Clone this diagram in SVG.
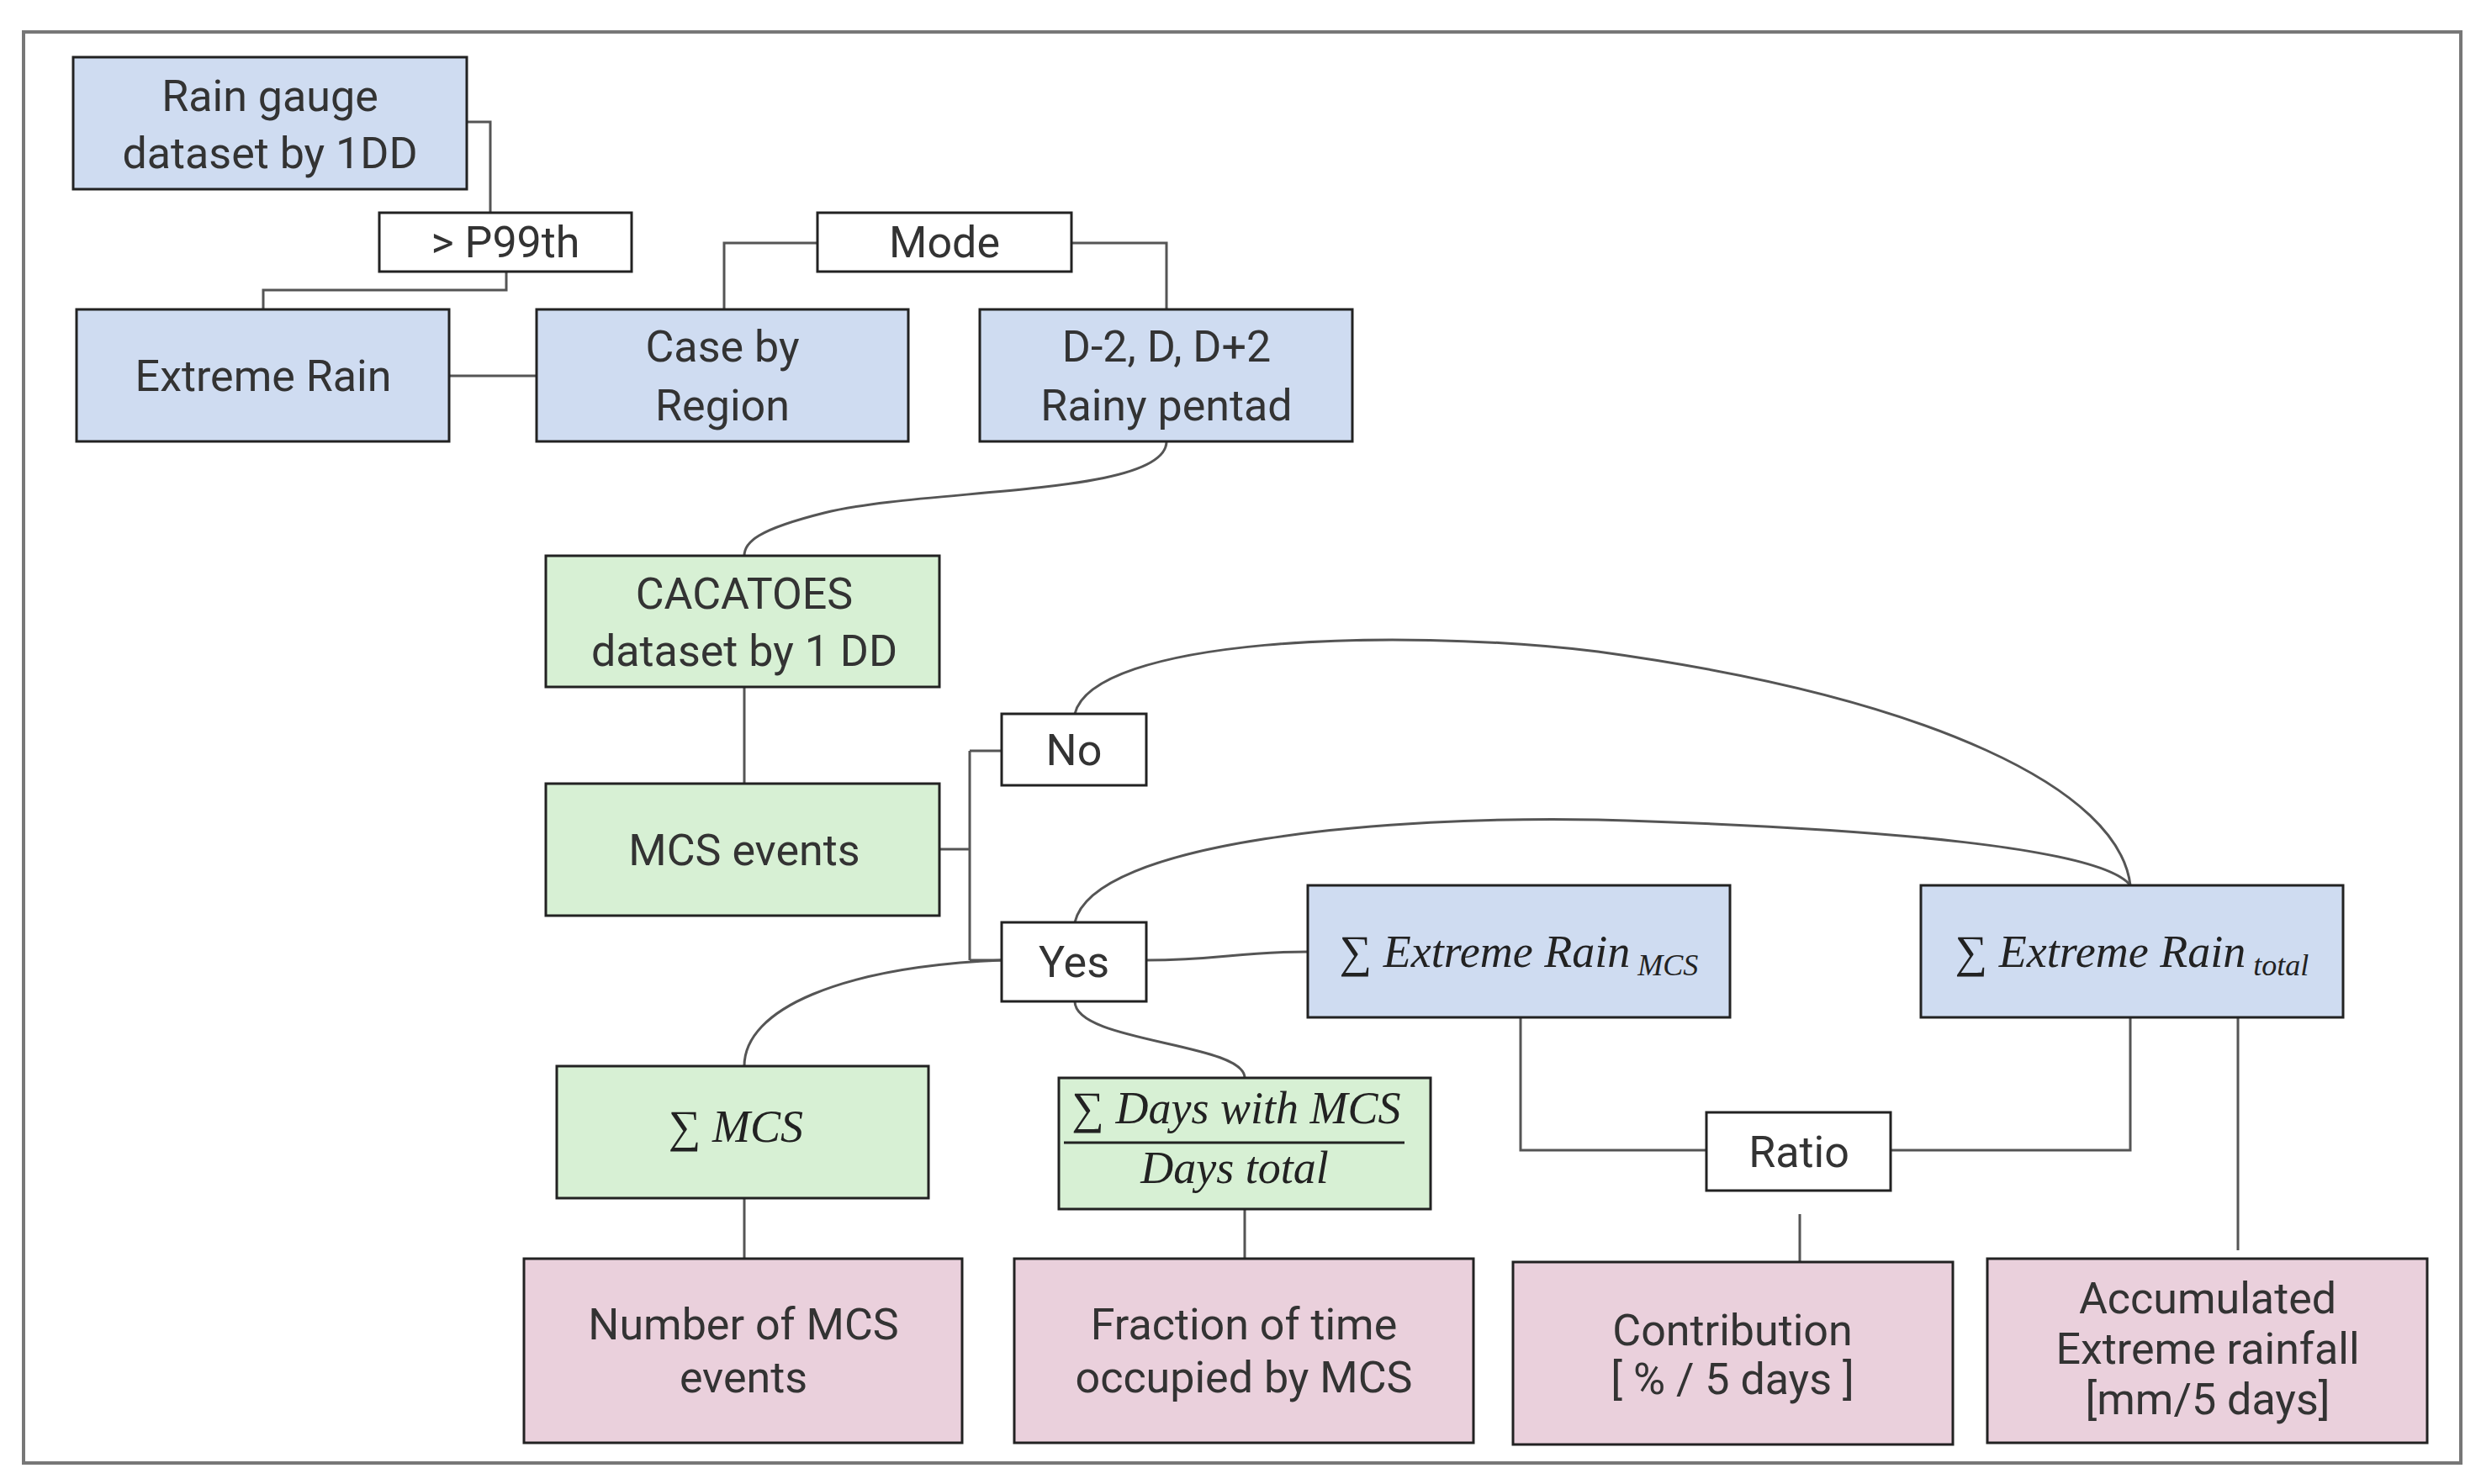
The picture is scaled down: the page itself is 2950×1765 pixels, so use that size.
<svg xmlns="http://www.w3.org/2000/svg" width="2950" height="1765" viewBox="0 0 2950 1765">
<style>
.b{fill:#cfdcf1;stroke:#222;stroke-width:3}
.g{fill:#d7f0d4;stroke:#222;stroke-width:3}
.p{fill:#ead0dc;stroke:#222;stroke-width:3}
.w{fill:#fff;stroke:#222;stroke-width:3}
text{font-family:Roboto,"Liberation Sans",sans-serif;font-size:52px;fill:#333;text-anchor:middle}
.m{font-family:"Liberation Serif",serif;font-style:italic;font-size:54px;fill:#222}
.c{fill:none;stroke:#555;stroke-width:3}
</style>
<rect x="28" y="38" width="2898" height="1702" fill="#fff" stroke="#777" stroke-width="4"/>
<g id="connectors">
<path class="c" d="M555 145H583V253"/>
<path class="c" d="M602 323V345H313V368"/>
<path class="c" d="M534 447H638"/>
<path class="c" d="M972 289H861V368"/>
<path class="c" d="M1274 289H1387V368"/>
<path class="c" d="M1387 525C1387 590 1100 580 980 610C900 630 885 645 885 661"/>
<path class="c" d="M885 817V932"/>
<path class="c" d="M1117 1010H1153M1153 893V1142M1153 893H1191M1153 1142H1191"/>
<path class="c" d="M1278 849C1300 760 1650 745 1900 775C2300 830 2520 940 2533 1053"/>
<path class="c" d="M1278 1097C1300 1000 1650 970 1900 975C2250 985 2500 1010 2533 1053"/>
<path class="c" d="M1363 1142C1450 1142 1470 1132 1555 1132"/>
<path class="c" d="M1191 1142C1000 1150 885 1200 885 1268"/>
<path class="c" d="M1278 1191C1278 1240 1480 1240 1480 1282"/>
<path class="c" d="M885 1425V1497M1480 1438V1497"/>
<path class="c" d="M1808 1210V1368H2029M2533 1210V1368H2248"/>
<path class="c" d="M2140 1444V1516M2661 1210V1487"/>
</g>
<g id="raingauge"><rect class="b" x="87" y="68" width="468" height="157"/><text x="321" y="132">Rain gauge</text><text x="321" y="200">dataset by 1DD</text></g>
<g id="p99"><rect class="w" x="451" y="253" width="300" height="70"/><text x="601" y="306">&gt; P99th</text></g>
<g id="mode"><rect class="w" x="972" y="253" width="302" height="70"/><text x="1123" y="306">Mode</text></g>
<g id="extreme"><rect class="b" x="91" y="368" width="443" height="157"/><text x="313" y="465">Extreme Rain</text></g>
<g id="case"><rect class="b" x="638" y="368" width="442" height="157"/><text x="859" y="430">Case by</text><text x="859" y="500">Region</text></g>
<g id="pentad"><rect class="b" x="1165" y="368" width="443" height="157"/><text x="1387" y="430">D-2, D, D+2</text><text x="1387" y="500">Rainy pentad</text></g>
<g id="cacatoes"><rect class="g" x="649" y="661" width="468" height="156"/><text x="885" y="724">CACATOES</text><text x="885" y="792">dataset by 1 DD</text></g>
<g id="mcs"><rect class="g" x="649" y="932" width="468" height="157"/><text x="885" y="1029">MCS events</text></g>
<g id="no"><rect class="w" x="1191" y="849" width="172" height="85"/><text x="1277" y="910">No</text></g>
<g id="yes"><rect class="w" x="1191" y="1097" width="172" height="94"/><text x="1277" y="1162">Yes</text></g>
<g id="ermcs"><rect class="b" x="1555" y="1053" width="502" height="157"/><text class="m" x="1806" y="1150">∑ Extreme Rain<tspan font-size="36" dy="10"> MCS</tspan></text></g>
<g id="ertotal"><rect class="b" x="2284" y="1053" width="502" height="157"/><text class="m" x="2535" y="1150">∑ Extreme Rain<tspan font-size="36" dy="10"> total</tspan></text></g>
<g id="summcs"><rect class="g" x="662" y="1268" width="442" height="157"/><text class="m" x="875" y="1358">∑ MCS</text></g>
<g id="days"><rect class="g" x="1259" y="1282" width="442" height="156"/><text class="m" x="1470" y="1336" font-size="46">∑ Days with MCS</text><line x1="1265" y1="1359" x2="1670" y2="1359" stroke="#222" stroke-width="3"/><text class="m" x="1468" y="1407" font-size="46">Days total</text></g>
<g id="ratio"><rect class="w" x="2029" y="1323" width="219" height="93"/><text x="2139" y="1388">Ratio</text></g>
<g id="number"><rect class="p" x="623" y="1497" width="521" height="219"/><text x="884" y="1593">Number of MCS</text><text x="884" y="1656">events</text></g>
<g id="fraction"><rect class="p" x="1206" y="1497" width="546" height="219"/><text x="1479" y="1593">Fraction of time</text><text x="1479" y="1656">occupied by MCS</text></g>
<g id="contribution"><rect class="p" x="1799" y="1501" width="523" height="217"/><text x="2060" y="1600">Contribution</text><text x="2060" y="1658" font-size="46">[ % / 5 days ]</text></g>
<g id="accum"><rect class="p" x="2363" y="1497" width="523" height="219"/><text x="2625" y="1562" font-size="48">Accumulated</text><text x="2625" y="1622" font-size="48">Extreme rainfall</text><text x="2625" y="1682" font-size="48">[mm/5 days]</text></g>
</svg>
